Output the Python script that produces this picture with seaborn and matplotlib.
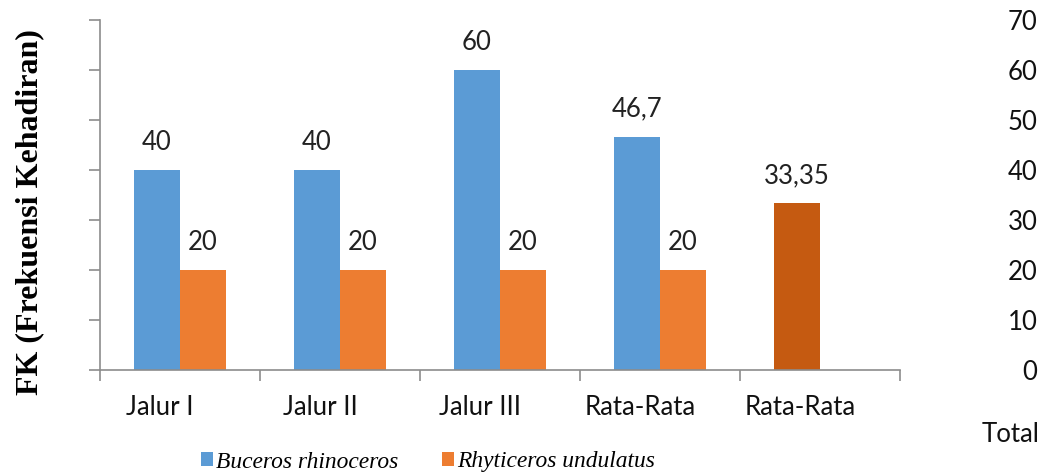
import matplotlib
matplotlib.use("Agg")
import matplotlib.pyplot as plt
from matplotlib.font_manager import FontProperties
import numpy as np
import pandas as pd
import seaborn as sns

# data
kategori = ["Jalur I", "Jalur II", "Jalur III", "Rata-Rata"]
buceros = [40, 40, 60, 46.7]
rhyticeros = [20, 20, 20, 20]
total_kategori = "Rata-Rata Total"
total_nilai = [33.35]
tick_labels = ["Jalur I", "Jalur II", "Jalur III", "Rata-Rata", "Rata-Rata"]
y_ticks = [0, 10, 20, 30, 40, 50, 60, 70]

spesies = ["Buceros rhinoceros", "Rhyticeros undulatus"]
warna = {"Buceros rhinoceros": "#5B9BD5", "Rhyticeros undulatus": "#ED7D31"}
warna_total = "#C55A11"
abu = "#8C8C8C"
fs = 18.5

sns.set_theme(style="white")
plt.rcParams["font.family"] = ["Lato", "DejaVu Sans"]

df = pd.DataFrame({
    "kategori": kategori * 2,
    "nilai": buceros + rhyticeros,
    "spesies": [spesies[0]] * len(kategori) + [spesies[1]] * len(kategori),
})
df_total = pd.DataFrame({"kategori": [total_kategori], "nilai": total_nilai, "grup": ["Total"]})
order = kategori + [total_kategori]

fig = plt.figure(figsize=(10.48, 4.75), dpi=100)
ax = fig.add_axes([100 / 1048, 105 / 475, 800 / 1048, 350 / 475])

width = 92 / 160
sns.barplot(data=df, x="kategori", y="nilai", hue="spesies", order=order,
            hue_order=spesies, palette=warna, width=width, saturation=1,
            linewidth=0, ax=ax, legend=True)
# the total bar sits in the first slot of its group, like the Excel chart
sns.barplot(data=df_total, x="kategori", y="nilai", hue="grup", order=order,
            hue_order=["Total", "_kosong"], dodge=True,
            palette={"Total": warna_total, "_kosong": "white"},
            width=width, saturation=1, linewidth=0, ax=ax, legend=False)

def fmt(v):
    return f"{v:g}".replace(".", ",")

for cont in ax.containers:
    vals = [b.get_height() for b in cont]
    labs = ["" if np.isnan(v) else fmt(v) for v in vals]
    ax.bar_label(cont, labels=labs, padding=11, fontsize=fs, color="#222222")

handles, labels = ax.get_legend_handles_labels()
ax.get_legend().remove()

ax.set_ylim(0, 70)
ax.set_xlim(-0.5, len(order) - 0.5)
ax.set_yticks(y_ticks)
ax.set_yticklabels([])
ax.set_xticks(np.arange(len(order) + 1) - 0.5)
ax.set_xticklabels([])
# Excel puts these labels a little left of the group centres
ax.set_xticks(np.arange(len(order)) - 0.125, minor=True)
ax.set_xticklabels(tick_labels, minor=True, fontsize=fs, color="#111111")
ax.tick_params(axis="x", which="minor", length=0, pad=18)
ax.tick_params(axis="both", which="major", direction="out", length=8,
               width=1.2, color=abu, left=True, bottom=True)
ax.set_xlabel("")
ax.set_ylabel("")
for side in ["top", "right"]:
    ax.spines[side].set_visible(False)
for side in ["left", "bottom"]:
    ax.spines[side].set_color(abu)
    ax.spines[side].set_linewidth(1.2)

# secondary axis labels on the right (no line)
ax2 = ax.twinx()
ax2.set_ylim(0, 70)
ax2.set_yticks(y_ticks)
ax2.set_yticklabels([str(t) for t in y_ticks], fontsize=fs, color="#111111")
for t in ax2.get_yticklabels():
    t.set_horizontalalignment("right")
ax2.tick_params(axis="y", length=0, pad=99)
for side in ax2.spines:
    ax2.spines[side].set_visible(False)

fig.text(1040 / 1048, 1 - 435 / 475, "Total", ha="right", va="center",
         fontsize=fs, color="#111111")

fig.text(30 / 1048, 1 - 212 / 475, "FK (Frekuensi Kehadiran)", rotation=90,
         ha="center", va="center", fontsize=23, fontweight="bold",
         family="Liberation Serif", color="black")

leg_font = FontProperties(family="Liberation Serif", style="italic", size=16.9)
leg = fig.legend(handles, labels, loc="center", bbox_to_anchor=(428 / 1048, 13 / 475),
                 ncol=2, frameon=False, prop=leg_font,
                 handlelength=0.5, handleheight=0.5, handletextpad=0.12,
                 columnspacing=1.9, borderaxespad=0)
for t in leg.get_texts():
    t.set_color("black")

fig.savefig("out.png", dpi=100)
